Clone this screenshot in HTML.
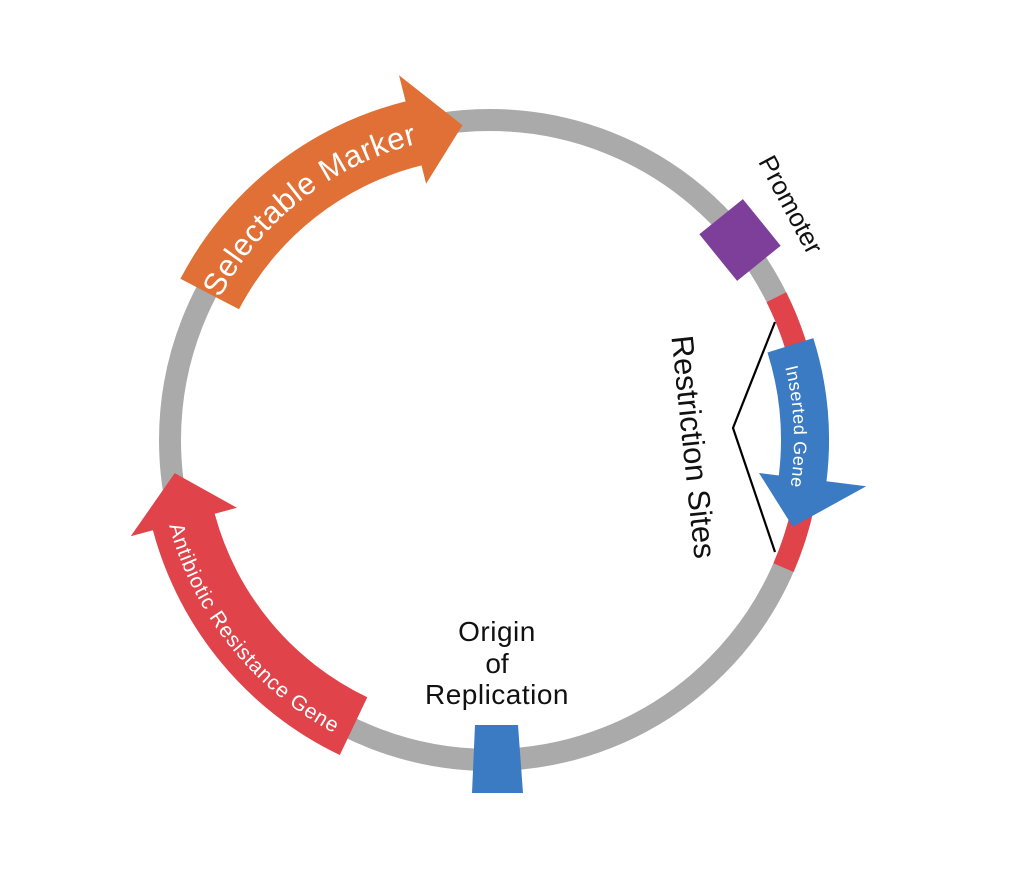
<!DOCTYPE html>
<html><head><meta charset="utf-8"><style>
html,body{margin:0;padding:0;background:#fff;}
svg{display:block;}
text{font-family:"Liberation Sans",sans-serif;}
</style></head><body>
<svg id="s" width="1023" height="877" viewBox="0 0 1023 877" xmlns="http://www.w3.org/2000/svg">
<defs>
<path id="pSel" d=""/>
<path id="pAnt" d=""/>
<path id="pIns" d=""/>
</defs>
<circle cx="490" cy="440" r="320" fill="none" stroke="#aaaaaa" stroke-width="22"/>
<path id="redArc" fill="none" stroke="#e0434a" stroke-width="22" d=""/>
<path id="aSel" fill="#e07035" d=""/>
<path id="aAnt" fill="#e0434a" d=""/>
<path id="aIns" fill="#3b7bc4" d=""/>
<rect x="-30" y="-28" width="60" height="56" fill="#7d3f9a" transform="translate(740,240) rotate(51)"/>
<polygon points="475,725 518,725 523,793 472,793" fill="#3b7bc4"/>
<polyline points="775,322 733,428 775,552" fill="none" stroke="#000" stroke-width="2.2"/>
<text font-size="31" fill="#fff" letter-spacing="0.5"><textPath href="#pSel" startOffset="50%" text-anchor="middle">Selectable Marker</textPath></text>
<text font-size="21" fill="#fff" letter-spacing="0.8"><textPath href="#pAnt" startOffset="50%" text-anchor="middle">Antibiotic Resistance Gene</textPath></text>
<text font-size="18" fill="#fff" letter-spacing="0.5"><textPath href="#pIns" startOffset="50%" text-anchor="middle">Inserted Gene</textPath></text>
<text font-size="26" fill="#111" text-anchor="middle" transform="translate(790,205) rotate(62)" dy="8">Promoter</text>
<text font-size="31" fill="#111" text-anchor="middle" transform="translate(693,447) rotate(84)" dy="10">Restriction Sites</text>
<text font-size="28" fill="#111" text-anchor="middle" x="497" y="641" letter-spacing="0.5">Origin</text>
<text font-size="28" fill="#111" text-anchor="middle" x="497" y="673">of</text>
<text font-size="28" fill="#111" text-anchor="middle" x="497" y="704" letter-spacing="0.5">Replication</text>
</svg>
<script>
var cx=490,cy=440;
function P(a,r){var t=a*Math.PI/180;return (cx+r*Math.cos(t)).toFixed(1)+","+(cy+r*Math.sin(t)).toFixed(1);}
function arc(a0,a1,r){var sw=a1>a0?1:0;var lg=Math.abs(a1-a0)>180?1:0;return "M"+P(a0,r)+" A"+r+","+r+" 0 "+lg+" "+sw+" "+P(a1,r);}
function arrow(a0,ab,at,ri,ro,hi,ho){
 return "M"+P(a0,ri)+" L"+P(a0,ro)+" A"+ro+","+ro+" 0 0 1 "+P(ab,ro)+" L"+P(ab,ho)+" L"+P(at,(ri+ro)/2)+" L"+P(ab,hi)+" L"+P(ab,ri)+" A"+ri+","+ri+" 0 0 0 "+P(a0,ri)+" Z";
}
function set(id,d){document.getElementById(id).setAttribute("d",d);}
set("redArc",arc(-26.5,23.5,320));
set("aSel",arrow(207.5,256,265,283,349,264,376));
set("aAnt",arrow(115.5,165,174,285,349,262,372));
set("aIns",arrow(-17.5,7,16,291,339,271,379));
set("pSel",arc(207,257,305));
set("pAnt",arc(169,114,332));
set("pIns",arc(-17,12,304));
</script>
</body></html>
